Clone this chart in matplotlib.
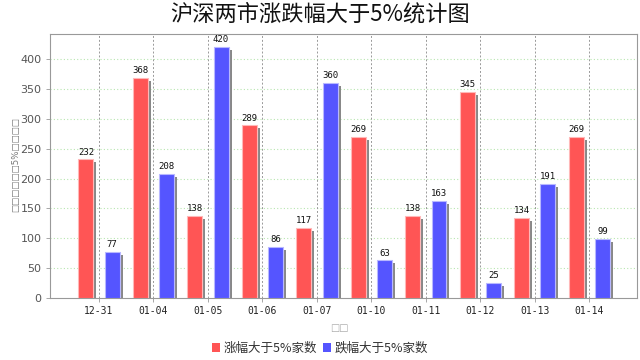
import matplotlib
matplotlib.use("Agg")
import matplotlib.pyplot as plt
import matplotlib.transforms as mtransforms
from matplotlib.patches import Patch
import numpy as np

plt.rcParams['font.family'] = ['Noto Sans CJK SC', 'DejaVu Sans']

categories = ["12-31", "01-04", "01-05", "01-06", "01-07", "01-10", "01-11", "01-12", "01-13", "01-14"]
up_counts = [232, 368, 138, 289, 117, 269, 138, 345, 134, 269]
down_counts = [77, 208, 420, 86, 360, 63, 163, 25, 191, 99]
series_names = ["涨幅大于5%家数", "跌幅大于5%家数"]
title = "沪深两市涨跌幅大于5%统计图"
y_label = "□□□□□□5%□□□□"
x_label = "□□"
y_ticks = [0, 50, 100, 150, 200, 250, 300, 350, 400]

red = "#FF5555"
blue = "#5555FF"

fig = plt.figure(figsize=(6.4, 3.6), dpi=100)
ax = fig.add_axes([0.078, 0.172, 0.917, 0.734])

x = np.arange(len(categories))
w = 0.275
off = 0.24

shadow_tr = mtransforms.offset_copy(ax.transData, fig=fig, x=3, y=-3, units='dots')
ax.bar(x - off, up_counts, w, color="#888888", transform=shadow_tr, zorder=2, linewidth=0)
ax.bar(x + off, down_counts, w, color="#888888", transform=shadow_tr, zorder=2, linewidth=0)
b1 = ax.bar(x - off, up_counts, w, color=red, edgecolor="#FFB8B8", linewidth=0.8, zorder=3)
b2 = ax.bar(x + off, down_counts, w, color=blue, edgecolor="#B8B8FF", linewidth=0.8, zorder=3)

for xi, v in zip(x - off, up_counts):
    ax.annotate(str(v), (xi, v), xytext=(0, 2), textcoords='offset points', ha='center', va='bottom',
                fontsize=6.5, family='DejaVu Sans Mono', color='#111111', zorder=5)
for xi, v in zip(x + off, down_counts):
    ax.annotate(str(v), (xi, v), xytext=(0, 2), textcoords='offset points', ha='center', va='bottom',
                fontsize=6.5, family='DejaVu Sans Mono', color='#111111', zorder=5)

ax.set_xlim(-0.9, 9.87)
ax.set_ylim(0, 442)
ax.set_yticks(y_ticks)
ax.set_yticklabels([str(t) for t in y_ticks], fontsize=8, color='#555555', family='DejaVu Sans')
ax.set_xticks(x)
ax.set_xticklabels(categories, fontsize=7, color='#222222', family='DejaVu Sans Mono')

for yv in y_ticks[1:]:
    ax.axhline(yv, color='#B8E6B0', linestyle=(0, (1, 2)), linewidth=0.8, zorder=1)
for xv in x:
    ax.axvline(xv, color='#999999', linestyle=(0, (2, 2)), linewidth=0.7, zorder=1)

for s in ax.spines.values():
    s.set_color('#999999')
    s.set_linewidth(0.8)
ax.tick_params(axis='both', length=3, color='#999999', width=0.6, pad=3)

ax.set_ylabel(y_label, fontsize=6.2, color='#777777', family='DejaVu Sans')
ax.yaxis.set_label_coords(-0.05, 0.507)
ax.set_xlabel(x_label, fontsize=7, color='#aaaaaa', family='DejaVu Sans')
ax.xaxis.set_label_coords(0.494, -0.095)

fig.text(0.5, 0.962, title, ha='center', va='center', fontsize=16, style='italic',
         fontweight='light', color='#111111')

handles = [Patch(facecolor=red, edgecolor='none'), Patch(facecolor=blue, edgecolor='none')]
fig.legend(handles, series_names, loc='center', bbox_to_anchor=(0.5, 0.032), ncol=2, frameon=False,
           fontsize=9, handlelength=0.7, handleheight=0.7, handletextpad=0.3, columnspacing=0.4,
           labelcolor='#333333')

fig.savefig("out.png", dpi=100, facecolor='white')
